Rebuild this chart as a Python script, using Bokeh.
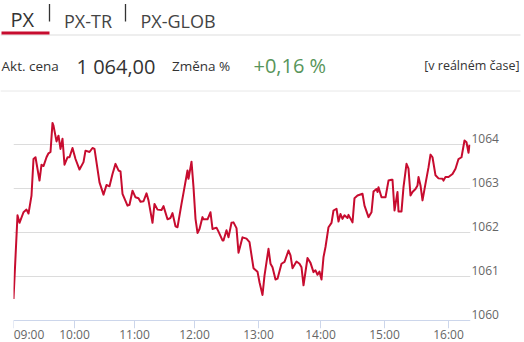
from bokeh.plotting import figure
from bokeh.models import Range1d, FixedTicker, Grid
from bokeh.models import LinearAxis
from bokeh.layouts import column
from bokeh.embed import file_html
from bokeh.resources import INLINE
from bokeh.core.properties import value

# ---------------- data ----------------
tabs = ["PX", "PX-TR", "PX-GLOB"]
price_label = "Akt. cena"
price_text = "1 064,00"
change_label = "Změna %"
change_text = "+0,16 %"
realtime_text = "[v reálném čase]"

# sample position along the (ordinal) intraday axis
pos = [0, 4, 6, 10, 13, 15, 18, 20, 22, 26, 28, 30, 33, 35, 37, 39, 40, 43, 45, 47,
       49, 51, 54, 56, 59, 62, 66, 70, 72, 76, 79, 81, 86, 90, 93, 96, 99, 102, 105, 107,
       109, 114, 116, 119, 122, 125, 127, 130, 133, 135, 139, 141, 144, 148, 150, 154, 157, 159, 162, 164,
       168, 170, 174, 175, 178, 180, 182, 184, 186, 189, 190, 194, 197, 199, 203, 205, 209, 210, 213, 215,
       218, 220, 223, 225, 229, 233, 236, 240, 244, 246, 249, 251, 255, 257, 259, 262, 264, 268, 271, 275,
       277, 279, 283, 286, 288, 290, 294, 297, 300, 302, 304, 306, 308, 310, 312, 315, 318, 320, 323, 325,
       327, 329, 331, 334, 335, 339, 341, 344, 349, 351, 355, 358, 360, 363, 364, 365, 368, 372, 375, 378,
       379, 381, 384, 385, 388, 390, 393, 395, 397, 399, 402, 404, 405, 407, 409, 412, 415, 417, 419, 422,
       425, 429, 430, 432, 435, 439, 442, 445, 448, 451, 453, 455, 456]
px_values = [1060.49, 1062.39, 1062.22, 1062.46, 1062.52, 1062.43, 1062.84, 1063.67, 1063.71, 1063.18,
             1063.54, 1063.51, 1063.71, 1063.80, 1063.83, 1064.49, 1064.43, 1064.07, 1064.20, 1063.90,
             1064.13, 1063.54, 1063.71, 1063.71, 1063.92, 1063.67, 1063.43, 1063.60, 1063.86, 1063.83,
             1063.92, 1063.90, 1063.14, 1062.86, 1063.08, 1063.05, 1063.33, 1063.56, 1063.41, 1063.39,
             1062.88, 1062.61, 1062.63, 1062.95, 1062.80, 1062.78, 1062.70, 1062.71, 1062.89, 1062.73,
             1062.22, 1062.65, 1062.52, 1062.51, 1062.60, 1062.30, 1062.33, 1062.44, 1062.14, 1062.12,
             1062.65, 1062.90, 1063.41, 1063.22, 1063.61, 1063.03, 1062.31, 1061.99, 1062.08, 1062.35,
             1062.30, 1062.30, 1062.46, 1062.08, 1062.11, 1062.02, 1061.82, 1061.82, 1062.05, 1061.89,
             1062.22, 1062.23, 1062.10, 1061.54, 1061.89, 1061.86, 1061.78, 1061.19, 1061.11, 1060.87,
             1060.58, 1061.02, 1061.63, 1061.29, 1061.21, 1060.93, 1060.95, 1061.29, 1061.33, 1061.59,
             1061.48, 1061.19, 1061.34, 1061.29, 1061.21, 1060.80, 1061.42, 1061.31, 1061.10, 1061.14,
             1061.04, 1061.11, 1060.93, 1061.44, 1061.67, 1062.12, 1062.22, 1062.50, 1062.54, 1062.25,
             1062.42, 1062.31, 1062.39, 1062.33, 1062.40, 1062.23, 1062.78, 1062.84, 1062.88, 1062.61,
             1062.35, 1062.46, 1062.93, 1062.99, 1062.92, 1063.03, 1062.80, 1062.80, 1063.18, 1063.20,
             1063.20, 1062.50, 1062.92, 1062.48, 1062.48, 1063.03, 1063.56, 1063.45, 1062.84, 1062.92,
             1062.99, 1063.07, 1063.26, 1063.07, 1062.73, 1063.11, 1063.48, 1063.77, 1063.71, 1063.30,
             1063.23, 1063.22, 1063.18, 1063.26, 1063.26, 1063.33, 1063.45, 1063.67, 1063.71, 1064.09,
             1064.05, 1063.81, 1063.99]

tick_pos = [0, 61, 121, 181, 245, 307, 371, 435]
tick_labels = ["09:00", "10:00", "11:00", "12:00", "13:00", "14:00", "15:00", "16:00"]
y_ticks = [1060, 1061, 1062, 1063, 1064]
grid_ticks = [1061, 1062, 1063, 1064]

FONT = "Open Sans"
RED = "#c70c2f"
DARK = "#333333"
AXIS_C = "#ccd6eb"

# ---------------- header ----------------
h = figure(width=524, height=92, x_range=Range1d(0, 524), y_range=Range1d(92, 0),
           x_axis_location=None, y_axis_location=None, toolbar_location=None,
           output_backend="svg", min_border=0, min_border_left=0, min_border_right=0,
           min_border_top=0, min_border_bottom=0, outline_line_color=None, frame_align=False)
h.grid.visible = False

h.segment(x0=[0], y0=[34.5], x1=[520], y1=[34.5], line_color="#dddddd", line_width=1)
h.segment(x0=[1], y0=[32.5], x1=[49], y1=[32.5], line_color=RED, line_width=3)
h.segment(x0=[49, 125], y0=[3.5, 3.5], x1=[49, 125], y1=[21, 21], line_color=DARK, line_width=1.3)
h.segment(x0=[0], y0=[90.5], x1=[520], y1=[90.5], line_color="#e8e8e8", line_width=1)

h.text(x=[10], y=[18.5], text=[tabs[0]], text_font=value(FONT), text_font_size="20px",
       text_color=DARK, text_baseline="alphabetic")
h.text(x=[63.5, 140], y=[20, 20], text=tabs[1:], text_font=value(FONT), text_font_size="18px",
       text_color="#444444", text_baseline="alphabetic")

h.text(x=[1, 171.5], y=[65, 65], text=[price_label, change_label], text_font=value(FONT),
       text_font_size="13.5px", text_color=DARK, text_baseline="alphabetic")
h.text(x=[76], y=[66], text=[price_text], text_font=value(FONT), text_font_size="20px",
       text_color=DARK, text_baseline="alphabetic")
h.text(x=[253], y=[65], text=[change_text], text_font=value(FONT), text_font_size="20px",
       text_color="#58955a", text_baseline="alphabetic")
h.text(x=[519], y=[65], text=[realtime_text], text_font=value(FONT), text_font_size="12.5px",
       text_color=DARK, text_baseline="alphabetic", text_align="right")

# ---------------- chart ----------------
PX_PER_UNIT = 44.0
TICK_LEN = 8
y_lo = y_ticks[0] - TICK_LEN / PX_PER_UNIT     # room for the outward tick marks
p = figure(frame_width=457, frame_height=220 + TICK_LEN, x_range=Range1d(0, 457),
           y_range=Range1d(y_lo, 1065),
           toolbar_location=None, output_backend="svg", y_axis_location=None,
           min_border_left=13, min_border_right=54, min_border_top=8, min_border_bottom=14,
           outline_line_color=None, frame_align=False)
p.xgrid.visible = False
p.ygrid.visible = False
p.add_layout(Grid(dimension=1, ticker=FixedTicker(ticks=grid_ticks), grid_line_color="#dcdcdc"))
# x axis base line at the lowest value tick
p.add_layout(Grid(dimension=1, ticker=FixedTicker(ticks=y_ticks[:1]), grid_line_color=AXIS_C))
# outward tick marks at the hour positions
p.segment(x0=tick_pos, y0=[y_ticks[0]] * len(tick_pos), x1=tick_pos, y1=[y_lo] * len(tick_pos),
          line_color=AXIS_C, line_width=1)

p.line(pos, px_values, line_color=RED, line_width=2, line_join="round")

# hour labels: first one kept inside the chart (left aligned look), the rest centred
label_w = 15.5
label_pos = [tick_pos[0] + label_w] + tick_pos[1:]
xa = p.xaxis[0]
xa.ticker = FixedTicker(ticks=label_pos)
xa.major_label_overrides = {t: l for t, l in zip(label_pos, tick_labels)}
xa.axis_line_color = None
xa.major_tick_line_color = None
xa.minor_tick_line_color = None
xa.major_tick_out = 0
xa.major_tick_in = 0
xa.major_label_standoff = -3
xa.major_label_text_font = FONT
xa.major_label_text_font_size = "12px"
xa.major_label_text_color = "#666666"

shift = 6 / PX_PER_UNIT
p.extra_y_ranges = {"lab": Range1d(y_lo - shift, 1065 - shift)}
ya = LinearAxis(y_range_name="lab", ticker=FixedTicker(ticks=y_ticks), axis_line_color=None,
                major_tick_line_color=None, minor_tick_line_color=None, major_tick_out=0,
                major_label_standoff=1, major_label_text_font=FONT,
                major_label_text_font_size="12px", major_label_text_color="#666666")
p.add_layout(ya, "right")

layout = column(h, p, spacing=0)
open("out.html", "w").write(file_html(layout, INLINE))
